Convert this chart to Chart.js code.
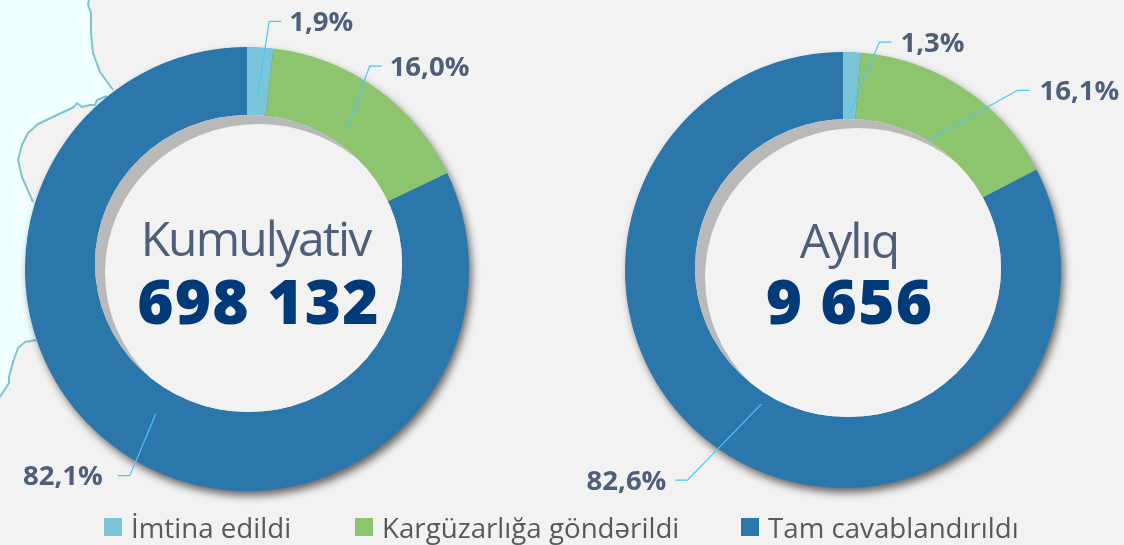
<!DOCTYPE html>
<html>
<head>
<meta charset="utf-8">
<title>Kumulyativ və Aylıq</title>
<script src="https://cdn.jsdelivr.net/npm/chart.js@4"></script>
<style>
    html, body { margin: 0; padding: 0; }
    body { width: 1124px; height: 545px; overflow: hidden; background: #f2f2f2; position: relative; font-family: 'Open Sans', sans-serif; }
    .coast { position: absolute; left: 0; top: 0; }
    .donut { position: absolute; top: 0; }
    #chart-total { left: 0; }
    #chart-month { left: 563px; }
    .legend-item { position: absolute; top: 510px; height: 34px; line-height: 34px; font-size: 27.7px; color: #595959; white-space: nowrap; }
    .legend-item i { position: absolute; left: 0; top: 8px; width: 18px; height: 18px; }
    .legend-item span { position: absolute; left: 27px; top: 0; }
</style>
</head>
<body>
<svg class="coast" width="130" height="420">
    <path d="M89,0 L88,5 L91,13 L91,33 L93,53 L100,72 L113,90 L107,96 L97,100 L95,105 L90,105 L82,107 L77,103 L74,107 L57,115 L38,124 L28,133 L22,145 L18,160 L22,177 L33,202 L36,340 L25,342 L18,348 L13,362 L9,377 L9,383 L0,397 L0,0 Z" fill="#f0ffff"></path>
    <path d="M89,0 L88,5 L91,13 L91,33 L93,53 L100,72 L113,90 M107,96 L97,100 L95,105 L90,105 L82,107 L77,103 L74,107 L57,115 L38,124 L28,133 L22,145 L18,160 L22,177 L33,202 M36,340 L25,342 L18,348 L13,362 L9,377 L9,383 L0,397" fill="none" stroke="#7cc5cf" stroke-width="2" stroke-linejoin="round"></path>
</svg>
<canvas id="chart-total" class="donut" width="494" height="538"></canvas>
<canvas id="chart-month" class="donut" width="561" height="540"></canvas>
<div id="legend"></div>
<script>
const categories = ['İmtina edildi', 'Kargüzarlığa göndərildi', 'Tam cavablandırıldı'];
const totalValues = [1.9, 16.0, 82.1];
const monthValues = [1.3, 16.1, 82.6];
const totalLabels = ['1,9%', '16,0%', '82,1%'];
const monthLabels = ['1,3%', '16,1%', '82,6%'];
const sliceColors = ['#7ac5d8', '#8dc56f', '#2b76ab'];
const legendLefts = [104, 355, 741];

const ringShadow = {
    id: 'ringShadow',
    beforeDatasetsDraw(chart) {
        const arc = chart.getDatasetMeta(0).data[0];
        const ctx = chart.ctx;
        ctx.save();
        ctx.shadowColor = 'rgba(0, 0, 0, 0.6)';
        ctx.shadowBlur = 9;
        ctx.shadowOffsetX = 3;
        ctx.shadowOffsetY = 5;
        ctx.fillStyle = '#2b76ab';
        ctx.beginPath();
        ctx.arc(arc.x, arc.y, arc.outerRadius - 0.5, 0, Math.PI * 2);
        ctx.fill();
        ctx.restore();
    }
};

function ellipsePath(ctx, box, dx, dy) {
    ctx.beginPath();
    ctx.ellipse((box[0] + box[1]) / 2 + dx, (box[2] + box[3]) / 2 + dy, (box[1] - box[0]) / 2, (box[3] - box[2]) / 2, 0, 0, Math.PI * 2);
}

// hole with its inner shadow, centre text, then the leader lines with their labels
const decorations = {
    id: 'decorations',
    afterDatasetsDraw(chart, args, opts) {
        const ctx = chart.ctx;
        const arcs = chart.getDatasetMeta(0).data;
        const cx = arcs[0].x;
        const cy = arcs[0].y;

        ctx.save();
        ellipsePath(ctx, opts.hole, 0, 0);
        ctx.fillStyle = '#f2f2f2';
        ctx.fill();
        ctx.clip();
        ctx.fillStyle = '#b9b9b9';
        ctx.fillRect(0, 0, chart.width, chart.height);
        ellipsePath(ctx, opts.hole, 10, 9);
        ctx.fillStyle = '#f2f2f2';
        ctx.fill();
        ctx.restore();

        ctx.save();
        ctx.textAlign = 'center';
        ctx.textBaseline = 'alphabetic';
        ctx.fillStyle = '#4d5f7a';
        ctx.font = "48px 'Open Sans'";
        ctx.letterSpacing = '-1.9px';
        ctx.fillText(opts.title, opts.textX, opts.titleY);
        ctx.fillStyle = '#003a78';
        ctx.font = "800 62px 'Open Sans'";
        ctx.letterSpacing = '1.2px';
        ctx.fillText(opts.count, opts.textX + opts.countShift, opts.countY);
        ctx.letterSpacing = '0px';

        ctx.font = "bold 27.5px 'Open Sans'";
        arcs.forEach((arc, i) => {
            const angle = (arc.startAngle + arc.endAngle) / 2;
            const ax = cx + Math.cos(angle) * opts.leaderRadius;
            const ay = cy + Math.sin(angle) * opts.leaderRadius;
            const elbow = opts.elbows[i];
            const ex = ax + elbow[0];
            const ey = ay + elbow[1];
            const dir = elbow[2];
            ctx.strokeStyle = '#4fc3f7';
            ctx.lineWidth = 1.2;
            ctx.beginPath();
            ctx.moveTo(ax, ay);
            ctx.lineTo(ex, ey);
            ctx.lineTo(ex + dir * 12, ey);
            ctx.stroke();

            ctx.fillStyle = '#4d5f7a';
            ctx.textAlign = dir > 0 ? 'left' : 'right';
            ctx.textBaseline = 'middle';
            ctx.fillText(opts.labels[i], ex + dir * elbow[3], ey + 2);
        });
        ctx.restore();
    }
};

function displayDonut(canvasId, values, padding, decor) {
    new Chart(document.getElementById(canvasId), {
        type: 'doughnut',
        data: {
            labels: categories,
            datasets: [{
                data: values,
                backgroundColor: sliceColors,
                borderWidth: 0
            }]
        },
        options: {
            responsive: false,
            animation: false,
            cutout: '58%',
            layout: { padding: padding },
            plugins: {
                legend: { display: false },
                tooltip: { enabled: false },
                decorations: decor
            }
        },
        plugins: [ringShadow, decorations]
    });
}

displayDonut('chart-total', totalValues, { left: 25, right: 25, top: 47, bottom: 47 }, {
    hole: [95, 402, 115, 412],
    title: 'Kumulyativ',
    count: '698 132',
    textX: 255.5,
    countShift: 3,
    titleY: 256,
    countY: 324,
    labels: totalLabels,
    leaderRadius: 171,
    elbows: [[12, -77, 1, 20], [23, -64, 1, 20], [-26, 62, -1, 27]]
});

displayDonut('chart-month', monthValues, { left: 62, right: 63, top: 52, bottom: 52 }, {
    hole: [132, 438, 119, 417],
    title: 'Aylıq',
    count: '9 656',
    textX: 286,
    countShift: 0.5,
    titleY: 258,
    countY: 324,
    labels: monthLabels,
    leaderRadius: 157,
    elbows: [[30, -71, 1, 21], [87.5, -49, 1, 22], [-74, 76, -1, 21]]
});

document.getElementById('legend').innerHTML = categories.map((name, i) => `
    <div class="legend-item" style="left: ${legendLefts[i]}px">
        <i style="background: ${sliceColors[i]}"></i><span>${name}</span>
    </div>
`).join('');
</script>
</body>
</html>
